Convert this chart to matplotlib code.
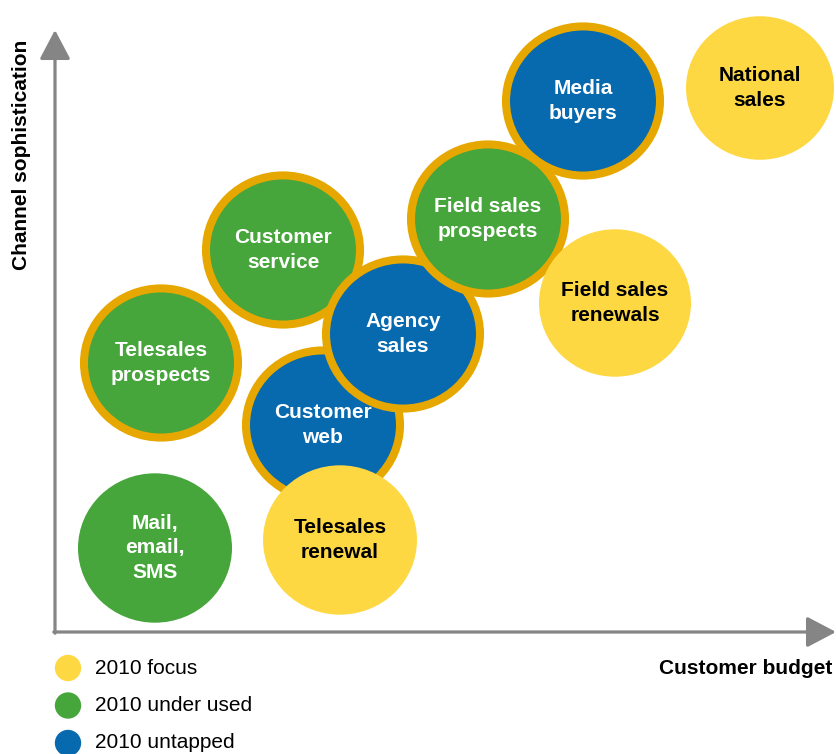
import matplotlib
matplotlib.use("Agg")
import matplotlib.pyplot as plt
from matplotlib.patches import Ellipse

plt.rcParams['font.family'] = ['Liberation Sans', 'DejaVu Sans']

# bubbles, drawn bottom to top
names = ["Customer\nservice", "Customer\nweb", "Media\nbuyers", "Agency\nsales",
         "Field sales\nprospects", "Telesales\nrenewal", "Telesales\nprospects",
         "Mail,\nemail,\nSMS", "Field sales\nrenewals", "National\nsales"]
budget = [228, 268, 528, 348, 433, 285, 106, 100, 560, 705]
sophistication = [382, 207, 531, 298, 413, 92, 269, 84, 329, 544]
radius = [81, 81, 81, 81, 81, 77, 81, 77, 76, 74]
status = ["under used", "untapped", "untapped", "untapped", "under used",
          "focus", "under used", "under used", "focus", "focus"]
outlined = [True, True, True, True, True, False, True, False, False, False]

legend_labels = ["2010 focus", "2010 under used", "2010 untapped"]
legend_keys = ["focus", "under used", "untapped"]

colors = {"focus": "#FDD843", "under used": "#46A53B", "untapped": "#0769AE"}
text_colors = {"focus": "black", "under used": "white", "untapped": "white"}
gold = "#E6A800"
grey = "#858585"

W, H = 836, 754
fig = plt.figure(figsize=(W / 100, H / 100), dpi=100)

# overlay in pixel coordinates for arrows, titles and legend
ov = fig.add_axes([0, 0, 1, 1])
ov.set_xlim(0, W)
ov.set_ylim(H, 0)
ov.axis("off")

# data axes, origin at the corner of the arrows
x0, y0 = 55, 632
ax = fig.add_axes([x0 / W, (H - y0) / H, (W - x0) / W, y0 / H])
ax.set_xlim(0, W - x0)
ax.set_ylim(0, y0)
ax.axis("off")

arrow = dict(arrowstyle="-|>,head_length=1.8,head_width=0.95",
             color=grey, lw=2.3, shrinkA=0, shrinkB=0)
ov.annotate("", xy=(x0, 30), xytext=(x0, y0 + 1.2), arrowprops=arrow,
            annotation_clip=False)
ov.annotate("", xy=(W, y0), xytext=(x0 - 1.2, y0), arrowprops=arrow,
            annotation_clip=False)

ov.text(22, 155, "Channel sophistication", rotation=90, ha="center", va="center",
        fontsize=15, fontweight="bold")
ov.text(832, 669, "Customer budget", ha="right", va="center",
        fontsize=15, fontweight="bold")

for i, name in enumerate(names):
    r = radius[i]
    c = colors[status[i]]
    if outlined[i]:
        e = Ellipse((budget[i], sophistication[i]), 2 * r - 8, 2 * r * 0.97 - 8,
                    facecolor=c, edgecolor=gold, linewidth=5.8, zorder=2 + i)
    else:
        e = Ellipse((budget[i], sophistication[i]), 2 * r, 2 * r * 0.97,
                    facecolor=c, edgecolor="none", zorder=2 + i)
    ax.add_patch(e)
    ax.text(budget[i], sophistication[i], name, ha="center", va="center",
            fontsize=15, fontweight="bold", color=text_colors[status[i]],
            linespacing=1.4, zorder=2 + i)

# legend
for j, (k, lab) in enumerate(zip(legend_keys, legend_labels)):
    y = 668 + 37.5 * j
    ov.scatter([68], [y], s=360, color=colors[k], edgecolors="none", clip_on=False)
    ov.text(95, y, lab, ha="left", va="center", fontsize=15)

fig.savefig("out.png", dpi=100)
